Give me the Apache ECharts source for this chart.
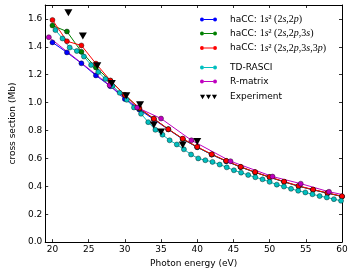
<!DOCTYPE html>
<html><head><meta charset="utf-8">
<script src="https://cdn.jsdelivr.net/npm/echarts@6/dist/echarts.min.js"></script>
<style>html,body{margin:0;padding:0;background:#fff}#c{width:351px;height:273px}</style>
</head><body><div id="c"></div>
<script>
// ---- data ----
const xTicks = [20, 25, 30, 35, 40, 45, 50, 55, 60];
const yTicks = [0, 0.2, 0.4, 0.6, 0.8, 1.0, 1.2, 1.4, 1.6];

const haccX = [20,22,24,26,28,30,32,34,36,38,40,42,44,46,48,50,52,54,56,58,60];
const hacc1Y = [1.432,1.360,1.282,1.195,1.118,1.026,0.950,0.880,0.808,0.738,0.680,0.627,0.580,0.538,0.500,0.465,0.432,0.401,0.375,0.351,0.327];
const hacc2Y = [1.553,1.510,1.365,1.252,1.157,1.055,0.958,0.885,0.810,0.740,0.681,0.628,0.581,0.538,0.500,0.465,0.432,0.401,0.375,0.351,0.327];
const hacc3Y = [1.593,1.440,1.410,1.280,1.159,1.055,0.962,0.885,0.810,0.742,0.683,0.630,0.583,0.540,0.502,0.467,0.434,0.403,0.377,0.353,0.329];

const rasciX = [20.41,21.39,22.38,23.37,24.35,25.34,26.33,27.31,28.30,29.29,30.27,31.26,32.24,33.23,34.22,35.20,36.19,37.18,38.16,39.15,40.14,41.12,42.11,43.10,44.08,45.07,46.06,47.04,48.03,49.02,50.00,50.99,51.98,52.96,53.95,54.94,55.92,56.91,57.90,58.88,59.87];
const rasciY = [1.520,1.460,1.395,1.370,1.330,1.270,1.220,1.170,1.120,1.070,1.020,0.965,0.920,0.860,0.805,0.770,0.730,0.700,0.665,0.628,0.600,0.587,0.575,0.556,0.536,0.515,0.498,0.481,0.465,0.450,0.432,0.412,0.398,0.382,0.368,0.356,0.343,0.330,0.320,0.308,0.296];

const rmatX = [19.5,27.9,31.7,35.0,39.2,44.6,50.4,54.3,58.2,62.0];
const rmatY = [1.469,1.124,0.965,0.886,0.730,0.580,0.470,0.419,0.361,0.320];

const expX = [22.2,24.2,26.2,28.2,30.2,32.1,34.0,35.0,38.0,40.0];
const expY = [1.645,1.478,1.265,1.137,1.050,0.985,0.840,0.790,0.697,0.722];

const names = ['hacc1','hacc2','hacc3','TD-RASCI','R-matrix','Experiment'];
const colors = ['#0000ff','#008000','#ff0000','#00bfbf','#bf00bf','#000000'];

// ---- chart ----
const zip = (xs, ys) => xs.map((x, i) => [x, ys[i]]);
const FONT = 'DejaVu Sans';
const chart = echarts.init(document.getElementById('c'), null, {renderer: 'canvas'});

const lineIcon = 'path://M2,5A3,3 0 1,1 8,5A3,3 0 1,1 2,5Z M8,4.4 L22,4.4 L22,5.6 L8,5.6Z M22,5A3,3 0 1,1 28,5A3,3 0 1,1 22,5Z';
const triIcon = 'path://M0,0L9,0L4.5,8Z M10.5,0L19.5,0L15,8Z M21,0L30,0L25.5,8Z';

function lineSeries(name, xs, ys, color) {
  return {
    type: 'line', name: name, data: zip(xs, ys),
    symbol: 'circle', symbolSize: 5, showSymbol: true,
    lineStyle: {color: color, width: 1},
    itemStyle: {color: color, borderColor: '#000', borderWidth: 0.4},
    animation: false, clip: true, z: 3
  };
}

const rich = {
  r: {fontFamily: 'Liberation Serif', fontSize: 10, color: '#000'},
  i: {fontFamily: 'Liberation Serif', fontStyle: 'italic', fontSize: 10, color: '#000'},
  s: {fontFamily: FONT, fontSize: 9, color: '#000'}
};
const labels = {
  hacc1: '{s|haCC: }{r|1}{i|s}{r|² (2}{i|s}{r|,2}{i|p}{r|)}',
  hacc2: '{s|haCC: }{r|1}{i|s}{r|² (2}{i|s}{r|,2}{i|p}{r|,3}{i|s}{r|)}',
  hacc3: '{s|haCC: }{r|1}{i|s}{r|² (2}{i|s}{r|,2}{i|p}{r|,3}{i|s}{r|,3}{i|p}{r|)}',
  'TD-RASCI': '{s|TD-RASCI}',
  'R-matrix': '{s|R-matrix}',
  'Experiment': '{s|Experiment}'
};
const rowY = [19.5, 33.5, 48, 67.5, 81.5, 97];
const legends = names.map((n, k) => ({
  data: [{name: n, icon: n === 'Experiment' ? triIcon : lineIcon,
          itemStyle: {color: colors[k], borderWidth: 0, opacity: 1}}],
  left: 200, top: rowY[k] - 5,
  itemWidth: 17, itemHeight: 6,
  itemGap: 0, padding: 0,
  formatter: (nm) => labels[nm],
  textStyle: {rich: rich, fontFamily: FONT, fontSize: 9, lineHeight: 10, padding: [0,0,0,8]},
  selectedMode: false
}));

const tickStyle = {show: true, inside: true, length: 3, lineStyle: {color: '#000', width: 0.8}};

chart.setOption({
  animation: false,
  backgroundColor: '#fff',
  grid: {left: 32, top: 5, width: 310, height: 239.5, containLabel: false},
  legend: legends,
  xAxis: [{
    type: 'value', min: 19, max: 60, position: 'bottom',
    axisLine: {show: true, onZero: false, lineStyle: {color: '#000', width: 1}},
    axisTick: Object.assign({customValues: xTicks}, tickStyle),
    axisLabel: {customValues: xTicks, fontFamily: FONT, fontSize: 9, color: '#000', margin: 3},
    splitLine: {show: false},
    name: 'Photon energy (eV)', nameLocation: 'middle', nameGap: 15,
    nameTextStyle: {fontFamily: FONT, fontSize: 9, color: '#000'}
  }, {
    type: 'value', min: 19, max: 60, position: 'top',
    axisLine: {show: true, onZero: false, lineStyle: {color: '#000', width: 1}},
    axisTick: Object.assign({customValues: xTicks}, tickStyle),
    axisLabel: {show: false}, splitLine: {show: false}
  }],
  yAxis: [{
    type: 'value', min: 0, max: 1.7, position: 'left',
    axisLine: {show: true, onZero: false, lineStyle: {color: '#000', width: 1}},
    axisTick: Object.assign({customValues: yTicks}, tickStyle),
    axisLabel: {customValues: yTicks, fontFamily: FONT, fontSize: 9, color: '#000', margin: 3,
      formatter: v => v.toFixed(1)},
    splitLine: {show: false},
    name: 'cross section (Mb)', nameLocation: 'middle', nameGap: 21, nameRotate: 90,
    nameTextStyle: {fontFamily: FONT, fontSize: 9, color: '#000'}
  }, {
    type: 'value', min: 0, max: 1.7, position: 'right',
    axisLine: {show: true, onZero: false, lineStyle: {color: '#000', width: 1}},
    axisTick: Object.assign({customValues: yTicks}, tickStyle),
    axisLabel: {show: false}, splitLine: {show: false}
  }],
  series: [
    lineSeries('hacc1', haccX, hacc1Y, colors[0]),
    lineSeries('hacc2', haccX, hacc2Y, colors[1]),
    lineSeries('hacc3', haccX, hacc3Y, colors[2]),
    lineSeries('TD-RASCI', rasciX, rasciY, colors[3]),
    lineSeries('R-matrix', rmatX, rmatY, colors[4]),
    {
      type: 'scatter', name: 'Experiment', data: zip(expX, expY),
      symbol: 'triangle', symbolRotate: 180, symbolSize: [8, 7],
      itemStyle: {color: '#000', opacity: 1}, z: 4, animation: false
    }
  ]
});
</script>
</body></html>
